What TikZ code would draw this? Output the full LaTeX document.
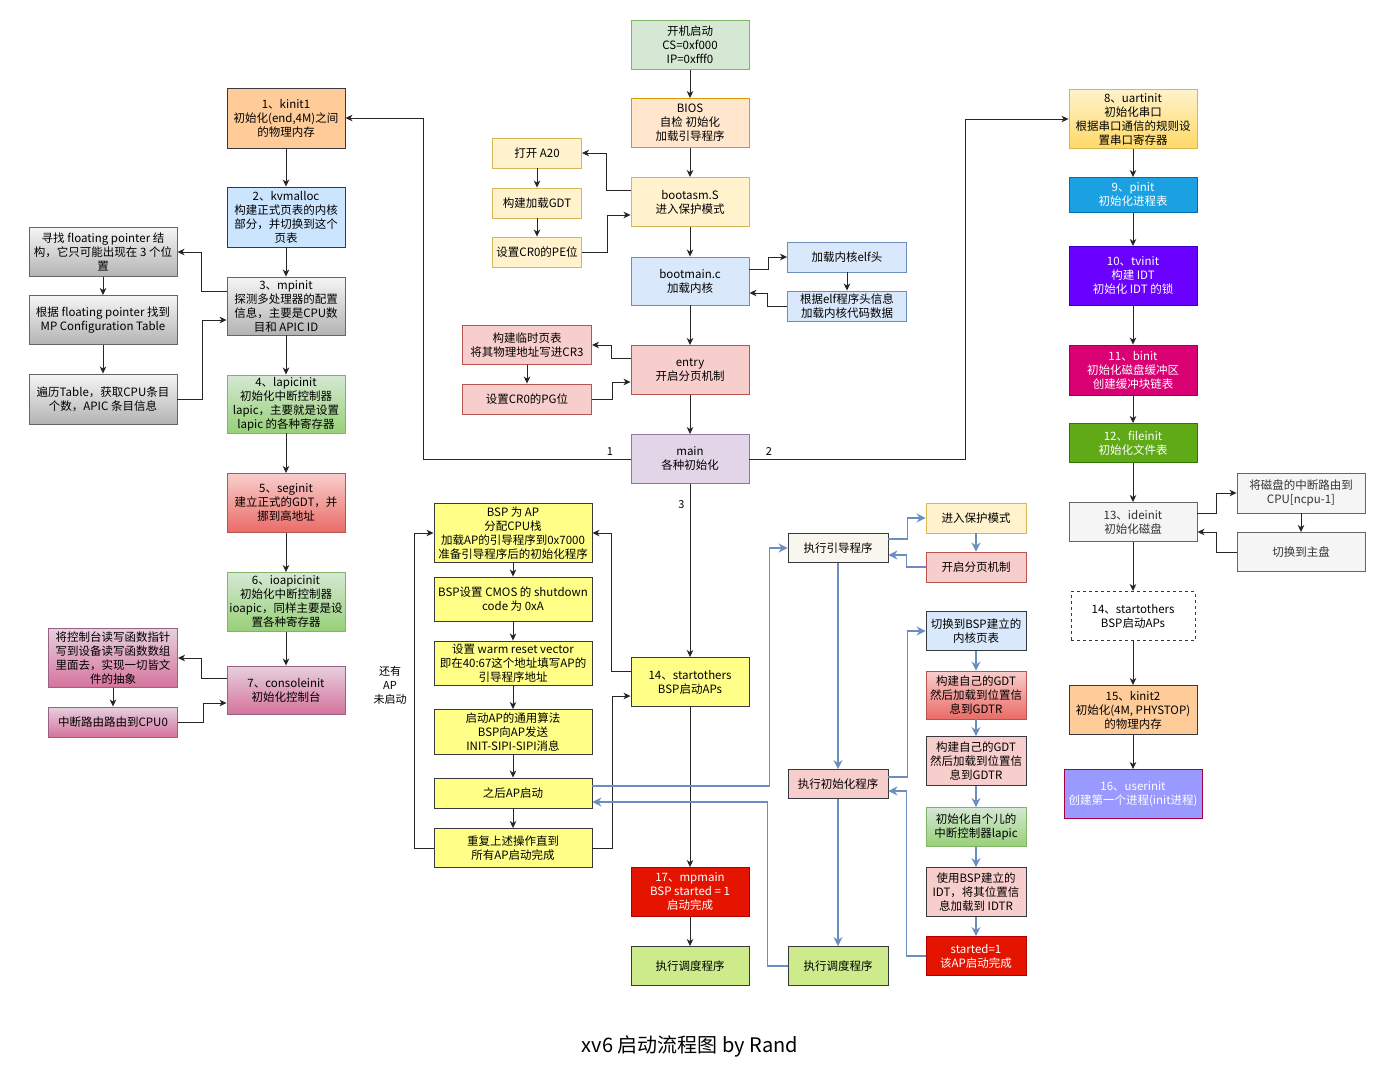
\documentclass[tikz,border=0pt]{standalone}
\usepackage{fontspec}
\setmainfont{Noto Sans CJK SC}
\usepackage{tikz}
\usetikzlibrary{arrows.meta, calc, positioning}

\definecolor{grnF}{HTML}{D5E8D4} \definecolor{grnD}{HTML}{82B366} \definecolor{grnB}{HTML}{97D077}
\definecolor{orgF}{HTML}{FFE6CC} \definecolor{orgD}{HTML}{D79B00}
\definecolor{ylwF}{HTML}{FFF2CC} \definecolor{ylwD}{HTML}{D6B656} \definecolor{ylwB}{HTML}{FFD966}
\definecolor{bluF}{HTML}{DAE8FC} \definecolor{bluD}{HTML}{6C8EBF}
\definecolor{redF}{HTML}{F8CECC} \definecolor{redD}{HTML}{B85450} \definecolor{redB}{HTML}{EA6B66}
\definecolor{purF}{HTML}{E1D5E7} \definecolor{purD}{HTML}{9673A6}
\definecolor{pnkF}{HTML}{E6D0DE} \definecolor{pnkD}{HTML}{996185} \definecolor{pnkB}{HTML}{D5739D}
\definecolor{darkD}{HTML}{36393D}
\definecolor{apF}{HTML}{FFFF88}
\definecolor{peachF}{HTML}{FFCC99}
\definecolor{skyF}{HTML}{CCE5FF}
\definecolor{stopF}{HTML}{E51400} \definecolor{stopD}{HTML}{B20000}
\definecolor{limeF}{HTML}{CDEB8B}
\definecolor{grayF}{HTML}{F5F5F5} \definecolor{grayD}{HTML}{666666} \definecolor{grayB}{HTML}{B3B3B3}
\definecolor{grayT}{HTML}{333333}
\definecolor{cyanF}{HTML}{1BA1E2} \definecolor{cyanD}{HTML}{006EAF}
\definecolor{violF}{HTML}{6A00FF} \definecolor{violD}{HTML}{3700CC}
\definecolor{magF}{HTML}{D80073} \definecolor{magD}{HTML}{A50040}
\definecolor{leafF}{HTML}{60A917} \definecolor{leafD}{HTML}{2D7600}
\definecolor{lavF}{HTML}{9999FF}
\definecolor{creamF}{HTML}{F9F7ED}

\begin{document}
\begin{tikzpicture}[x=1pt, y=-1pt,
  box/.style={draw, align=center, inner sep=1pt, line width=0.9pt, font=\fontsize{11.5}{14}\selectfont},
  wh/.style 2 args={minimum width=#1pt, minimum height=#2pt},
  lbl/.style={font=\fontsize{11}{14}\selectfont, inner sep=1pt},
  arr/.style={draw=black!85, line width=0.9pt, -{Stealth[length=7pt,width=6.5pt,inset=2pt]}},
  barr/.style={draw=bluD, line width=1.8pt, -{Stealth[length=9pt,width=9pt,inset=3pt]}},
  cgreen/.style={fill=grnF, draw=grnD},
  corange/.style={fill=orgF, draw=orgD},
  cyellow/.style={fill=ylwF, draw=ylwD},
  cblue/.style={fill=bluF, draw=bluD},
  cred/.style={fill=redF, draw=redD},
  cpurple/.style={fill=purF, draw=purD},
  capbox/.style={fill=apF, draw=darkD},
  cstop/.style={fill=stopF, draw=stopD, text=white},
  clime/.style={fill=limeF, draw=darkD},
  cgray/.style={fill=grayF, draw=grayD, text=grayT},
  ggray/.style={top color=grayF, bottom color=grayB, draw=grayD},
  ggreen/.style={top color=grnF, bottom color=grnB, draw=grnD},
  gred/.style={top color=redF, bottom color=redB, draw=redD},
  gpink/.style={top color=pnkF, bottom color=pnkB, draw=pnkD},
  gyellow/.style={top color=ylwF, bottom color=ylwB, draw=ylwD},
  ]

\fill[white] (0,0) rectangle (1400,1085);
\useasboundingbox (0,0) rectangle (1400,1085);

% Boot chain (center)
\node[box, wh={118}{49}, cgreen] (start) at (690,45) {开机启动\\CS=0xf000\\IP=0xfff0};
\node[box, wh={118}{49}, corange] (bios) at (690,123) {BIOS\\自检 初始化\\加载引导程序};
\node[box, wh={118}{49}, cyellow] (bootasm) at (690,202) {bootasm.S\\进入保护模式};
\node[box, wh={118}{48}, cblue] (bootmain) at (690,281) {bootmain.c\\加载内核};
\node[box, wh={118}{49}, cred] (entry) at (690,370) {entry\\开启分页机制};
\node[box, wh={118}{49}, cpurple] (main) at (690,459) {main\\各种初始化};
\node[box, wh={118}{49}, capbox] (soA) at (690,682) {14、startothers\\BSP启动APs};
\node[box, wh={118}{49}, cstop] (mpmain) at (690,892) {17、mpmain\\BSP started = 1\\启动完成};
\node[box, wh={118}{39}, clime] (schedA) at (690,966) {执行调度程序};

% bootasm / bootmain / entry details
\node[box, wh={89}{30}, cyellow] (a20) at (537,153) {打开 A20};
\node[box, wh={89}{30}, cyellow] (gdt) at (537,203) {构建加载GDT};
\node[box, wh={89}{30}, cyellow] (pe) at (537,252) {设置CR0的PE位};
\node[box, wh={129}{39}, cred] (tmppg) at (527,345) {构建临时页表\\将其物理地址写进CR3};
\node[box, wh={129}{30}, cred] (pg) at (527,399) {设置CR0的PG位};
\node[box, wh={119}{30}, cblue] (elfhdr) at (847,257) {加载内核elf头};
\node[box, wh={119}{30}, cblue] (elfload) at (847,306) {根据elf程序头信息\\加载内核代码数据};

% main: steps 1-7
\node[box, wh={118}{60}, fill=peachF, draw=darkD] (kinit1) at (286,118) {1、kinit1\\初始化(end,4M)之间\\的物理内存};
\node[box, wh={118}{60}, fill=skyF, draw=darkD] (kvm) at (286,217) {2、kvmalloc\\构建正式页表的内核\\部分，并切换到这个\\页表};
\node[box, wh={118}{58}, ggray] (mpinit) at (286,306) {3、mpinit\\探测多处理器的配置\\信息，主要是CPU数\\目和 APIC ID};
\node[box, wh={118}{58}, ggreen] (lapic) at (286,404) {4、lapicinit\\初始化中断控制器\\lapic，主要就是设置\\lapic 的各种寄存器};
\node[box, wh={118}{59}, gred] (seg) at (286,503) {5、seginit\\建立正式的GDT，并\\挪到高地址};
\node[box, wh={118}{59}, ggreen] (ioapic) at (286,602) {6、ioapicinit\\初始化中断控制器\\ioapic，同样主要是设\\置各种寄存器};
\node[box, wh={118}{48}, gpink] (console) at (286,690) {7、consoleinit\\初始化控制台};

\node[box, wh={148}{49}, ggray] (fp1) at (103,252) {寻找 floating pointer 结\\构，它只可能出现在 3 个位\\置};
\node[box, wh={148}{49}, ggray] (fp2) at (103,320) {根据 floating pointer 找到\\MP Configuration Table};
\node[box, wh={148}{50}, ggray] (fp3) at (103,399) {遍历Table，获取CPU条目\\个数，APIC 条目信息};
\node[box, wh={129}{59}, gpink] (con1) at (113,658) {将控制台读写函数指针\\写到设备读写函数数组\\里面去，实现一切皆文\\件的抽象};
\node[box, wh={129}{30}, gpink] (con2) at (113,722) {中断路由路由到CPU0};

% startothers on the BSP
\node[box, wh={158}{59}, capbox] (ap1) at (513,533) {BSP 为 AP\\分配CPU栈\\加载AP的引导程序到0x7000\\准备引导程序后的初始化程序};
\node[box, wh={158}{44}, capbox] (ap2) at (513,599) {BSP设置 CMOS 的 shutdown\\code 为 0xA};
\node[box, wh={158}{44}, capbox] (ap3) at (513,663) {设置 warm reset vector\\即在40:67这个地址填写AP的\\引导程序地址};
\node[box, wh={158}{45}, capbox] (ap4) at (513,732) {启动AP的通用算法\\BSP向AP发送\\INIT-SIPI-SIPI消息};
\node[box, wh={158}{30}, capbox] (ap5) at (513,793) {之后AP启动};
\node[box, wh={158}{39}, capbox] (ap6) at (513,848) {重复上述操作直到\\所有AP启动完成};
\node[lbl, align=center] (apnote) at (390,685) {还有\\AP\\未启动};

% the AP side
\node[box, wh={100}{29}, fill=creamF, draw=darkD] (boot2) at (838,548) {执行引导程序};
\node[box, wh={100}{30}, cyellow] (prot) at (976,518) {进入保护模式};
\node[box, wh={100}{30}, cred] (pag) at (976,567) {开启分页机制};
\node[box, wh={100}{29}, fill=redF, draw=darkD] (init2) at (838,784) {执行初始化程序};
\node[box, wh={100}{39}, clime] (schedB) at (838,966) {执行调度程序};
\node[box, wh={100}{39}, fill=bluF, draw=darkD] (sw) at (976,631) {切换到BSP建立的\\内核页表};
\node[box, wh={100}{48}, gred] (gdtA) at (976,695) {构建自己的GDT\\然后加载到位置信\\息到GDTR};
\node[box, wh={100}{49}, fill=redF, draw=darkD] (gdtB) at (976,761) {构建自己的GDT\\然后加载到位置信\\息到GDTR};
\node[box, wh={100}{39}, ggreen] (lapicB) at (976,827) {初始化自个儿的\\中断控制器lapic};
\node[box, wh={100}{49}, fill=redF, draw=darkD] (idt) at (976,892) {使用BSP建立的\\IDT，将其位置信\\息加载到 IDTR};
\node[box, wh={100}{39}, cstop] (started) at (976,956) {started=1\\该AP启动完成};

% main: steps 8-16
\node[box, wh={128}{59}, gyellow] (uart) at (1133,119) {8、uartinit\\初始化串口\\根据串口通信的规则设\\置串口寄存器};
\node[box, wh={128}{35}, fill=cyanF, draw=cyanD, text=white] (pinit) at (1133,195) {9、pinit\\初始化进程表};
\node[box, wh={128}{59}, fill=violF, draw=violD, text=white] (tvinit) at (1133,276) {10、tvinit\\构建 IDT\\初始化 IDT 的锁};
\node[box, wh={128}{50}, fill=magF, draw=magD, text=white] (binit) at (1133,370) {11、binit\\初始化磁盘缓冲区\\创建缓冲块链表};
\node[box, wh={128}{39}, fill=leafF, draw=leafD, text=white] (fileinit) at (1133,443) {12、fileinit\\初始化文件表};
\node[box, wh={128}{39}, cgray] (ide) at (1133,522) {13、ideinit\\初始化磁盘};
\node[box, wh={128}{40}, cgray] (dsk1) at (1301,493) {将磁盘的中断路由到\\CPU[ncpu-1]};
\node[box, wh={128}{39}, cgray] (dsk2) at (1301,552) {切换到主盘};
\node[box, wh={124}{49}, draw=darkD, dashed] (soB) at (1133,616) {14、startothers\\BSP启动APs};
\node[box, wh={128}{49}, fill=peachF, draw=darkD] (kinit2) at (1133,710) {15、kinit2\\初始化(4M, PHYSTOP)\\的物理内存};
\node[box, wh={138}{49}, fill=lavF, draw=magD, text=white] (userinit) at (1133,794) {16、userinit\\创建第一个进程(init进程)};

\node[font=\fontsize{20}{24}\selectfont] (title) at (690,1046) {xv6 启动流程图 by Rand};

% straight arrows
\foreach \a/\b in {start/bios, bios/bootasm, bootasm/bootmain, bootmain/entry, entry/main,
  soA/mpmain, mpmain/schedA, a20/gdt, gdt/pe, tmppg/pg, elfhdr/elfload,
  kinit1/kvm, kvm/mpinit, mpinit/lapic, lapic/seg, seg/ioapic, ioapic/console,
  fp1/fp2, fp2/fp3, con1/con2, ap1/ap2, ap2/ap3, ap3/ap4, ap4/ap5, ap5/ap6,
  uart/pinit, pinit/tvinit, tvinit/binit, binit/fileinit, fileinit/ide,
  ide/soB, soB/kinit2, kinit2/userinit, dsk1/dsk2}
  \draw[arr] (\a) -- (\b);
\foreach \a/\b in {boot2/init2, init2/schedB, prot/pag, sw/gdtA, gdtA/gdtB,
  gdtB/lapicB, lapicB/idt, idt/started}
  \draw[barr] (\a) -- (\b);

% side loops
\draw[arr] ($(bootasm.west)+(0,-12)$) -- ++(-24,0) |- (a20.east);
\draw[arr] (pe.east) -- ++(25,0) |- ($(bootasm.west)+(0,13)$);
\draw[arr] ($(bootmain.east)+(0,-12)$) -- ++(19,0) |- (elfhdr.west);
\draw[arr] (elfload.west) -- ++(-20,0) |- ($(bootmain.east)+(0,12)$);
\draw[arr] ($(entry.west)+(0,-12)$) -- ++(-19,0) |- (tmppg.east);
\draw[arr] (pg.east) -- ++(20,0) |- ($(entry.west)+(0,12)$);
\draw[arr] ($(mpinit.west)+(0,-15)$) -- ++(-25,0) |- (fp1.east);
\draw[arr] (fp3.east) -- ++(25,0) |- ($(mpinit.west)+(0,14)$);
\draw[arr] ($(console.west)+(0,-12)$) -- ++(-25,0) |- (con1.east);
\draw[arr] (con2.east) -- ++(25,0) |- ($(console.west)+(0,13)$);
\draw[arr] ($(ide.east)+(0,-9)$) -- ++(19,0) |- (dsk1.west);
\draw[arr] (dsk2.west) -- ++(-20,0) |- ($(ide.east)+(0,10)$);

% main branches
\draw[arr] (main.west) -- node[lbl, pos=0.1, above=2pt] {1} ++(-207,0) |- (kinit1.east);
\draw[arr] (main.east) -- node[lbl, pos=0.09, above=2pt] {2} ++(216,0) |- (uart.west);
\draw[arr] (main) -- node[lbl, pos=0.12, left=4pt] {3} (soA);

% startothers loops
\draw[arr] ($(soA.west)+(0,-11)$) -- ++(-19,0) |- (ap1.east);
\draw[arr] (ap6.east) -- ++(20,0) |- ($(soA.west)+(0,14)$);
\draw[arr] (ap6.west) -- ++(-19,0) |- (ap1.west);

% AP side
\draw[barr] ($(ap5.east)+(0,-7)$) -- ++(177,0) |- (boot2.west);
\draw[barr] (schedB.west) -- ++(-20,0) |- ($(ap5.east)+(0,9)$);
\draw[barr] ($(boot2.east)+(0,-9)$) -- ++(19,0) |- (prot.west);
\draw[barr] (pag.west) -- ++(-19,0) |- ($(boot2.east)+(0,7)$);
\draw[barr] ($(init2.east)+(0,-7)$) -- ++(19,0) |- (sw.west);
\draw[barr] (started.west) -- ++(-19,0) |- ($(init2.east)+(0,7)$);

\end{tikzpicture}
\end{document}
